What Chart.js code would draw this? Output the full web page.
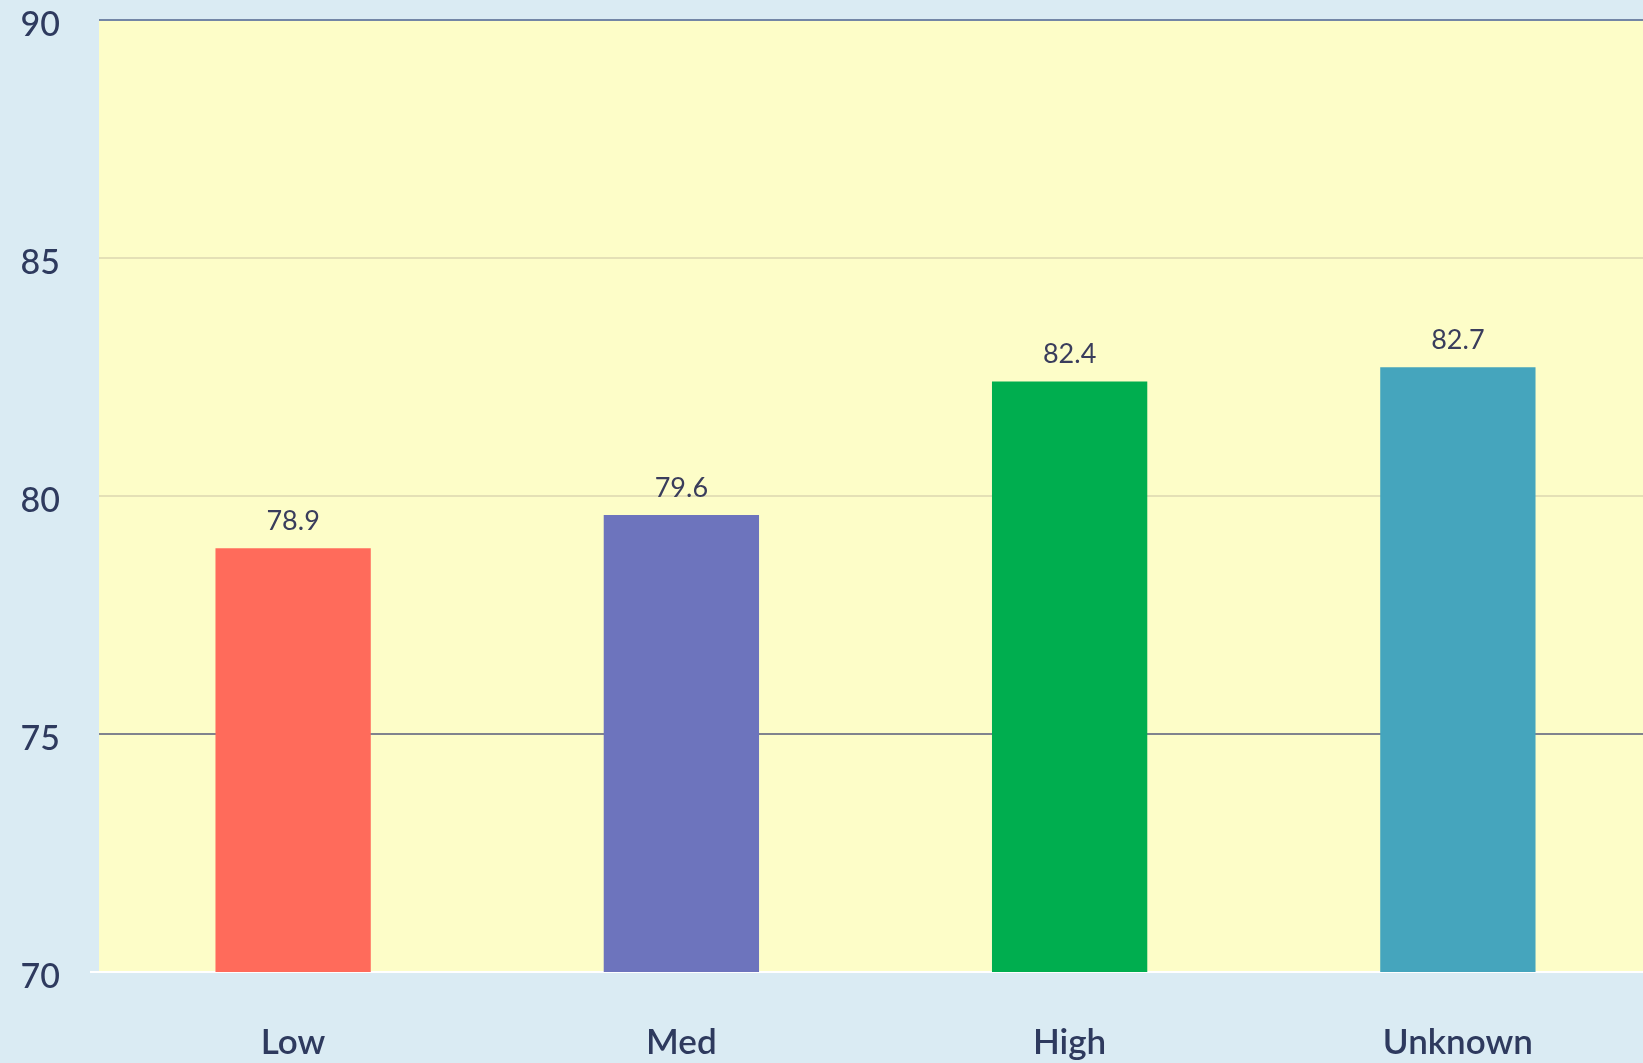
<!DOCTYPE html>
<html>
<head>
<meta charset="utf-8">
<script src="https://cdn.jsdelivr.net/npm/chart.js@4.4.1/dist/chart.umd.min.js"></script>
<style>
  html, body { margin: 0; padding: 0; overflow: hidden; background: #daebf3; }
  #wrap { width: 1652px; height: 1075px; margin-top: -12px; position: relative; }
</style>
</head>
<body>
<div id="wrap"><canvas id="chart"></canvas></div>
<script>
// data
const categories = ['Low', 'Med', 'High', 'Unknown'];
const scores = [78.9, 79.6, 82.4, 82.7];
const barColors = ['#ff6b5b', '#6d74bd', '#00ae4f', '#45a5bd'];
const yMin = 70;
const yMax = 90;
const yStep = 5;

const textColor = '#2e3a5e';

// yellow plot area fill
const plotBackground = {
  id: 'plotBackground',
  beforeDraw(chart) {
    const { ctx, chartArea: a } = chart;
    ctx.save();
    ctx.fillStyle = '#fdfdc8';
    ctx.fillRect(a.left, a.top, a.right - a.left, a.bottom - a.top);
    ctx.restore();
  }
};

// value labels above each bar
const valueLabels = {
  id: 'valueLabels',
  afterDatasetsDraw(chart) {
    const { ctx } = chart;
    const meta = chart.getDatasetMeta(0);
    ctx.save();
    ctx.font = '27px Lato, "Open Sans", sans-serif';
    ctx.fillStyle = '#3a3d5c';
    ctx.textAlign = 'center';
    ctx.textBaseline = 'middle';
    meta.data.forEach((bar, i) => {
      ctx.fillText(scores[i].toFixed(1), bar.x, bar.y - 27);
    });
    ctx.restore();
  }
};

function gridColor(ctx) {
  const v = ctx.tick && ctx.tick.value;
  if (v === 70) return '#ffffff';
  if (v === 90) return '#7386a6';
  if (v === 75) return '#80838e';
  return '#e4e0b6';
}

new Chart(document.getElementById('chart'), {
  type: 'bar',
  data: {
    labels: categories,
    datasets: [{
      data: scores,
      backgroundColor: barColors,
      borderWidth: 0,
      categoryPercentage: 1,
      barPercentage: 0.4
    }]
  },
  options: {
    responsive: true,
    maintainAspectRatio: false,
    animation: false,
    layout: { padding: { top: 0, right: 0, bottom: 0, left: 0 } },
    plugins: {
      legend: { display: false },
      tooltip: { enabled: false }
    },
    scales: {
      x: {
        grid: { display: false },
        border: { display: false },
        ticks: {
          color: textColor,
          padding: 42,
          font: { family: 'Lato, "Open Sans", sans-serif', size: 35, weight: '600' }
        },
        afterFit(scale) { scale.height = 91; }
      },
      y: {
        min: yMin,
        max: yMax,
        border: { display: false },
        grid: {
          color: gridColor,
          lineWidth: 2,
          tickLength: 9,
          tickColor: (ctx) => (ctx.tick && ctx.tick.value === 70 ? '#ffffff' : 'rgba(0,0,0,0)')
        },
        ticks: {
          stepSize: yStep,
          color: textColor,
          padding: 30,
          labelOffset: 5,
          font: { family: 'Lato, "Open Sans", sans-serif', size: 34, weight: '500', lineHeight: 0.1 }
        },
        afterFit(scale) { scale.width = 99; }
      }
    }
  },
  plugins: [plotBackground, valueLabels]
});
</script>
</body>
</html>
